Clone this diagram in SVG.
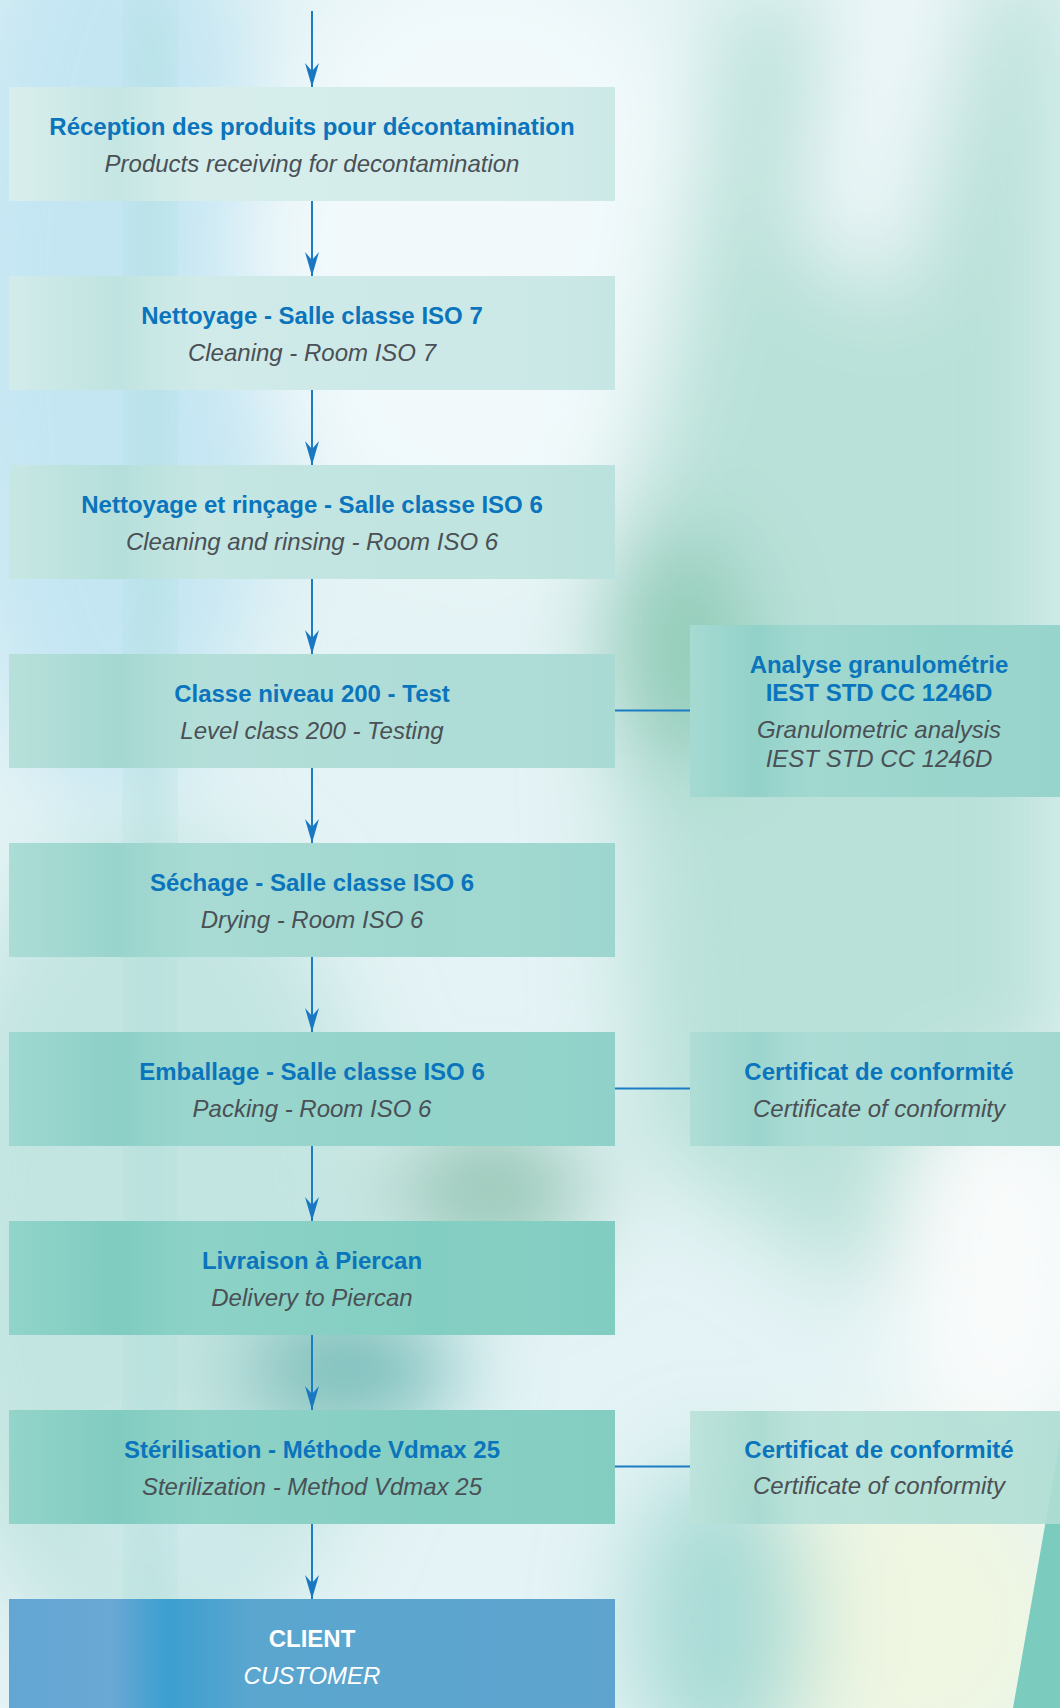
<svg xmlns="http://www.w3.org/2000/svg" width="1060" height="1708" viewBox="0 0 1060 1708">
<style>
.t{font-family:"Liberation Sans",Arial,sans-serif;font-weight:bold;font-size:24px;fill:#0a74bc;text-anchor:middle}
.s{font-family:"Liberation Sans",Arial,sans-serif;font-style:italic;font-size:24px;fill:#4a5055;text-anchor:middle}
.w{fill:#ffffff}
.c{stroke:#1c7cc3;stroke-width:2;fill:none}
</style>
<defs>
<filter id="blur" x="-20%" y="-20%" width="140%" height="140%"><feGaussianBlur stdDeviation="45"/></filter>
<filter id="blur2" x="-20%" y="-20%" width="140%" height="140%"><feGaussianBlur stdDeviation="20"/></filter>
<linearGradient id="stripe" x1="0" y1="0" x2="1" y2="0">
<stop offset="0" stop-color="#ffffff" stop-opacity="0.12"/>
<stop offset="0.18" stop-color="#5fb8b0" stop-opacity="0.12"/>
<stop offset="0.32" stop-color="#ffffff" stop-opacity="0.08"/>
<stop offset="0.7" stop-color="#ffffff" stop-opacity="0"/>
<stop offset="1" stop-color="#5fb8b0" stop-opacity="0.06"/>
</linearGradient>
<linearGradient id="client" x1="0" y1="0" x2="1" y2="0">
<stop offset="0" stop-color="#63a6d4"/>
<stop offset="0.17" stop-color="#6aa8d5"/>
<stop offset="0.26" stop-color="#3b9fcf"/>
<stop offset="0.4" stop-color="#5aa6cf"/>
<stop offset="1" stop-color="#5ea4cf"/>
</linearGradient>
<marker id="ah" markerUnits="userSpaceOnUse" markerWidth="24" markerHeight="14" viewBox="0 0 24 14" refX="24" refY="7" orient="auto">
<path d="M0,0 L24,7 L0,14 L8,7 Z" fill="#1a78c2"/>
</marker>
</defs>

<g id="background">
<rect x="0" y="0" width="1060" height="1708" fill="#e4f3f5"/>
<g filter="url(#blur)">
<ellipse cx="110" cy="320" rx="170" ry="480" fill="#c4e6f3"/>
<ellipse cx="480" cy="250" rx="240" ry="300" fill="#f1f9fb"/>
<polygon points="730,0 1060,-40 1060,1150 880,1300 640,1150 610,560 660,380" fill="#b9e1d9"/>
<polygon points="830,-60 990,-60 900,300 800,240" fill="#eef7f9"/>
<ellipse cx="680" cy="650" rx="70" ry="120" fill="#8fcab6"/>
<ellipse cx="150" cy="1250" rx="230" ry="420" fill="#c3e5e1"/>
<ellipse cx="490" cy="1190" rx="100" ry="70" fill="#95c6b5"/>
<ellipse cx="350" cy="1370" rx="110" ry="60" fill="#6fbab6"/>
<ellipse cx="1000" cy="1270" rx="110" ry="190" fill="#f9fbfb"/>
<ellipse cx="900" cy="1620" rx="180" ry="170" fill="#eff6e2"/>
<ellipse cx="720" cy="1620" rx="90" ry="160" fill="#a9dbd6"/>
<ellipse cx="180" cy="1530" rx="80" ry="60" fill="#d3ebee"/>
</g>
<g filter="url(#blur2)">
<rect x="130" y="0" width="40" height="1700" fill="#a8dcd8" opacity="0.45"/>
</g>
<polygon points="1060,1440 1060,1708 1013,1708" fill="#7ccbbf"/>
</g>

<g id="connectors">
<line class="c" x1="312" y1="11" x2="312" y2="87" marker-end="url(#ah)"/>
<line class="c" x1="312" y1="201" x2="312" y2="276" marker-end="url(#ah)"/>
<line class="c" x1="312" y1="390" x2="312" y2="465" marker-end="url(#ah)"/>
<line class="c" x1="312" y1="579" x2="312" y2="654" marker-end="url(#ah)"/>
<line class="c" x1="312" y1="768" x2="312" y2="843" marker-end="url(#ah)"/>
<line class="c" x1="312" y1="957" x2="312" y2="1032" marker-end="url(#ah)"/>
<line class="c" x1="312" y1="1146" x2="312" y2="1221" marker-end="url(#ah)"/>
<line class="c" x1="312" y1="1335" x2="312" y2="1410" marker-end="url(#ah)"/>
<line class="c" x1="312" y1="1524" x2="312" y2="1599" marker-end="url(#ah)"/>
<line class="c" x1="615" y1="710.5" x2="690" y2="710.5"/>
<line class="c" x1="615" y1="1088.5" x2="690" y2="1088.5"/>
<line class="c" x1="615" y1="1466.5" x2="690" y2="1466.5"/>
</g>

<g id="n1">
<rect x="9" y="87" width="606" height="114" fill="#d3ecea"/>
<rect x="9" y="87" width="606" height="114" fill="url(#stripe)"/>
<text class="t" x="312" y="135">Réception des produits pour décontamination</text>
<text class="s" x="312" y="172">Products receiving for decontamination</text>
</g>
<g id="n2">
<rect x="9" y="276" width="606" height="114" fill="#cce9e7"/>
<rect x="9" y="276" width="606" height="114" fill="url(#stripe)"/>
<text class="t" x="312" y="324">Nettoyage - Salle classe ISO 7</text>
<text class="s" x="312" y="361">Cleaning - Room ISO 7</text>
</g>
<g id="n3">
<rect x="9" y="465" width="606" height="114" fill="#c0e4e0"/>
<rect x="9" y="465" width="606" height="114" fill="url(#stripe)"/>
<text class="t" x="312" y="513">Nettoyage et rinçage - Salle classe ISO 6</text>
<text class="s" x="312" y="550">Cleaning and rinsing - Room ISO 6</text>
</g>
<g id="n4">
<rect x="9" y="654" width="606" height="114" fill="#aedcd6"/>
<rect x="9" y="654" width="606" height="114" fill="url(#stripe)"/>
<text class="t" x="312" y="702">Classe niveau 200 - Test</text>
<text class="s" x="312" y="739">Level class 200 - Testing</text>
</g>
<g id="n5">
<rect x="9" y="843" width="606" height="114" fill="#a0d8d0"/>
<rect x="9" y="843" width="606" height="114" fill="url(#stripe)"/>
<text class="t" x="312" y="891">Séchage - Salle classe ISO 6</text>
<text class="s" x="312" y="928">Drying - Room ISO 6</text>
</g>
<g id="n6">
<rect x="9" y="1032" width="606" height="114" fill="#92d3ca"/>
<rect x="9" y="1032" width="606" height="114" fill="url(#stripe)"/>
<text class="t" x="312" y="1080">Emballage - Salle classe ISO 6</text>
<text class="s" x="312" y="1117">Packing - Room ISO 6</text>
</g>
<g id="n7">
<rect x="9" y="1221" width="606" height="114" fill="#83cec2"/>
<rect x="9" y="1221" width="606" height="114" fill="url(#stripe)"/>
<text class="t" x="312" y="1269">Livraison à Piercan</text>
<text class="s" x="312" y="1306">Delivery to Piercan</text>
</g>
<g id="n8">
<rect x="9" y="1410" width="606" height="114" fill="#85cec2"/>
<rect x="9" y="1410" width="606" height="114" fill="url(#stripe)"/>
<text class="t" x="312" y="1458">Stérilisation - Méthode Vdmax 25</text>
<text class="s" x="312" y="1495">Sterilization - Method Vdmax 25</text>
</g>
<g id="n9">
<rect x="9" y="1599" width="606" height="120" fill="url(#client)"/>
<text class="t w" x="312" y="1647">CLIENT</text>
<text class="s w" x="312" y="1684">CUSTOMER</text>
</g>
<g id="a1">
<rect x="690" y="625" width="380" height="172" fill="#99d5cc"/>
<rect x="690" y="625" width="380" height="172" fill="url(#stripe)"/>
<text class="t" x="879" y="673">Analyse granulométrie</text>
<text class="t" x="879" y="701">IEST STD CC 1246D</text>
<text class="s" x="879" y="738">Granulometric analysis</text>
<text class="s" x="879" y="767">IEST STD CC 1246D</text>
</g>
<g id="c1">
<rect x="690" y="1032" width="380" height="114" fill="#a4d9d1"/>
<rect x="690" y="1032" width="380" height="114" fill="url(#stripe)"/>
<text class="t" x="879" y="1080">Certificat de conformité</text>
<text class="s" x="879" y="1117">Certificate of conformity</text>
</g>
<g id="c2">
<rect x="690" y="1411" width="380" height="113" fill="#b2ded5" fill-opacity="0.92"/>
<rect x="690" y="1411" width="380" height="113" fill="url(#stripe)"/>
<text class="t" x="879" y="1458">Certificat de conformité</text>
<text class="s" x="879" y="1494">Certificate of conformity</text>
</g>
</svg>
